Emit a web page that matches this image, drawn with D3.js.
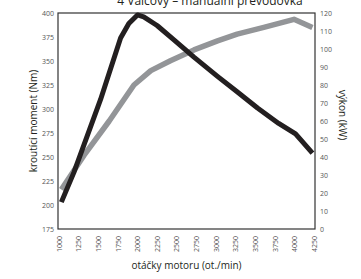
<!DOCTYPE html>
<html>
<head>
<meta charset="utf-8">
<script src="https://cdn.jsdelivr.net/npm/d3@7"></script>
<style>
  body { margin: 0; background: #fff; }
  text { font-family: "Open Sans", sans-serif; }
</style>
</head>
<body>
<svg id="chart" width="361" height="279"></svg>
<script>
// engine curves: torque (Nm) and power (kW) against rpm
const rpmTicks = [1000, 1250, 1500, 1750, 2000, 2250, 2500, 2750, 3000, 3250, 3500, 3750, 4000, 4250];
const torqueTicks = [175, 200, 225, 250, 275, 300, 325, 350, 375, 400];
const powerTicks = [0, 10, 20, 30, 40, 50, 60, 70, 80, 90, 100, 110, 120];

const torqueRpm = [1030, 1190, 1530, 1785, 1890, 2000, 2080, 2250, 2465, 2720, 3020, 3270, 3530, 3800, 4015, 4230];
const torqueNm  = [203, 234, 310, 374, 389, 398, 396, 387, 372, 354, 334, 318, 301, 285, 274, 254];

const powerRpm = [1030, 1320, 1640, 1955, 2170, 2420, 2720, 3020, 3270, 3610, 3995, 4230];
const powerKw  = [22, 41, 60, 80, 88, 93.5, 99.5, 104.5, 108.3, 112, 116.5, 112];

const margin = { top: 13, right: 46, bottom: 50, left: 58 };
const width = 361 - margin.left - margin.right;
const height = 279 - margin.top - margin.bottom;

const svg = d3.select('#chart');
const g = svg.append('g').attr('transform', `translate(${margin.left},${margin.top})`);

const x = d3.scaleLinear().domain([1000, 4250]).range([1, width - 1]);
const yL = d3.scaleLinear().domain([175, 400]).range([height, 0]);
const yR = d3.scaleLinear().domain([0, 120]).range([height, 0]);

// title, cut by the top edge
svg.append('text')
    .attr('x', 210).attr('y', 5)
    .attr('text-anchor', 'middle')
    .style('font-size', '12px')
    .style('fill', '#231f20')
    .text('4 Válcový – manuální převodovka');

// frame
g.append('rect')
    .attr('width', width).attr('height', height)
    .attr('fill', 'none')
    .attr('stroke', '#333')
    .attr('stroke-width', 1.2);

// left axis
const left = g.append('g').call(d3.axisLeft(yL).tickValues(torqueTicks).tickSize(0).tickPadding(4));
left.select('.domain').remove();
left.selectAll('text').style('font-size', '7px').style('fill', '#555');

// right axis
const right = g.append('g').attr('transform', `translate(${width},0)`)
    .call(d3.axisRight(yR).tickValues(powerTicks).tickSize(0).tickPadding(5));
right.select('.domain').remove();
right.selectAll('text').style('font-size', '7px').style('fill', '#555');

// bottom axis, rotated labels
const bottom = g.append('g').attr('transform', `translate(0,${height})`)
    .call(d3.axisBottom(x).tickValues(rpmTicks).tickSize(0).tickFormat(d3.format('d')));
bottom.select('.domain').remove();
bottom.selectAll('text')
    .style('font-size', '7px').style('fill', '#555')
    .attr('text-anchor', 'end')
    .attr('dy', '0.32em')
    .attr('transform', 'translate(0,7) rotate(-90)')
    .attr('x', 0).attr('y', 0);

// lines
const powerLine = d3.line().x((d, i) => x(powerRpm[i])).y(d => yR(d));
const torqueLine = d3.line().x((d, i) => x(torqueRpm[i])).y(d => yL(d));

g.append('path').datum(powerKw)
    .attr('d', powerLine)
    .attr('fill', 'none')
    .attr('stroke', '#939598')
    .attr('stroke-width', 5.5)
    .attr('stroke-linejoin', 'round');

g.append('path').datum(torqueNm)
    .attr('d', torqueLine)
    .attr('fill', 'none')
    .attr('stroke', '#231f20')
    .attr('stroke-width', 5)
    .attr('stroke-linejoin', 'round');

// axis titles
svg.append('text')
    .attr('transform', `translate(37,${margin.top + height / 2}) rotate(-90)`)
    .attr('text-anchor', 'middle')
    .style('font-size', '10px').style('fill', '#231f20')
    .text('kroutící moment (Nm)');

svg.append('text')
    .attr('transform', `translate(339,${margin.top + height / 2 - 6}) rotate(90)`)
    .attr('text-anchor', 'middle')
    .style('font-size', '10px').style('fill', '#231f20')
    .text('výkon (kW)');

svg.append('text')
    .attr('x', margin.left + width / 2).attr('y', 269)
    .attr('text-anchor', 'middle')
    .style('font-size', '10px').style('fill', '#231f20')
    .text('otáčky motoru (ot./min)');
</script>
</body>
</html>
